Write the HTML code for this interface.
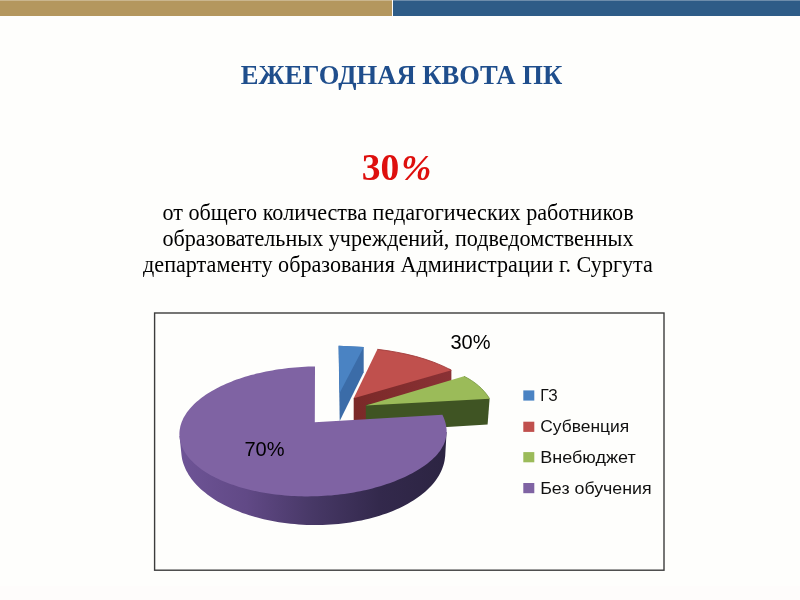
<!DOCTYPE html>
<html lang="ru"><head><meta charset="utf-8"><title>Ежегодная квота ПК</title>
<style>
html,body{margin:0;padding:0}
body{width:800px;height:600px;position:relative;overflow:hidden;background:#fefefc;font-family:"Liberation Serif",serif}
.bar1{position:absolute;left:0;top:0;width:392px;height:16.4px;background:#b4975e}
.bar2{position:absolute;left:392.8px;top:0;width:407.2px;height:16.4px;background:#2e5c87}
.barhl{position:absolute;left:0;top:0;width:800px;height:1px;background:rgba(255,255,255,.3)}
.foot{position:absolute;left:0;top:586px;width:800px;height:14px;background:#fefcfb}
.title{position:absolute;left:0;width:803px;top:58.5px;text-align:center;font-weight:bold;font-size:26.6px;line-height:32px;color:#1f4e8c;white-space:nowrap}
.pct{position:absolute;left:361.7px;top:146.5px;font-weight:bold;font-size:37.5px;line-height:42px;color:#de0f0d;white-space:nowrap}
.pct i{font-size:36px;margin-left:2px}
.body{position:absolute;left:0;width:796px;top:199.5px;text-align:center;font-size:22.15px;line-height:26px;color:#000;white-space:nowrap}
</style></head><body>
<div class="bar1"></div><div class="bar2"></div><div class="barhl"></div><div class="foot"></div>
<div class="title">ЕЖЕГОДНАЯ КВОТА ПК</div>
<div class="pct">30<i>%</i></div>
<div class="body">от общего количества педагогических работников<br>образовательных учреждений, подведомственных<br>департаменту образования Администрации г. Сургута</div>
<svg width="800" height="600" viewBox="0 0 800 600" style="position:absolute;left:0;top:0">
<defs>
<linearGradient id="ps" gradientUnits="userSpaceOnUse" x1="180" y1="0" x2="446" y2="0">
<stop offset="0" stop-color="#6e5496"/>
<stop offset="0.25" stop-color="#614986"/>
<stop offset="0.5" stop-color="#473866"/>
<stop offset="0.75" stop-color="#33294c"/>
<stop offset="1" stop-color="#2c2442"/>
</linearGradient>
<linearGradient id="rs" gradientUnits="userSpaceOnUse" x1="354" y1="0" x2="452" y2="0">
<stop offset="0" stop-color="#7a2928"/><stop offset="1" stop-color="#8a3135"/>
</linearGradient>
</defs>
<rect x="154.6" y="313" width="509.4" height="257.2" fill="none" stroke="#3c3c3c" stroke-width="1.4"/>
<!-- blue -->
<path d="M338.6,345.8 L363.7,347.0 L363.7,372.3 L339.7,421.0 Z" fill="#3b6ca8"/>
<path d="M338.6,345.8 L363.7,347.0 L339.6,393.0 Z" fill="#4a83c3"/>
<!-- red -->
<path d="M353.7,398.0 L356.7,396.3 L449.4,368.7 L451.4,370.2 L451.4,394.2 L353.7,424.3 Z" fill="url(#rs)"/>
<path d="M353.7,398.3 L377.4,349.3 C403.0,352.5 428.4,358.0 451.4,370.2 Z" fill="#c0504d"/>
<path d="M377.4,349.3 C403.0,352.5 428.4,358.0 451.4,370.2" fill="none" stroke="#a23c3b" stroke-width="0.9"/>
<!-- green -->
<path d="M365.8,405.2 L368.8,404.0 L487.6,397.2 L489.6,398.7 L487.6,424.6 L365.8,432.0 Z" fill="#3f5423"/>
<path d="M365.8,405.5 L464.0,376.3 C474.3,381.3 483.6,388.9 489.6,398.7 Z" fill="#9bbb59"/>
<path d="M464.0,376.3 C474.3,381.3 483.6,388.9 489.6,398.7" fill="none" stroke="#7d9d47" stroke-width="0.9"/>
<!-- purple -->
<path d="M179.5,436.0 L181.5,455.1 L181.8,457.3 L182.2,459.5 L182.8,461.7 L183.5,463.9 L184.3,466.1 L185.2,468.3 L186.2,470.5 L187.4,472.6 L188.6,474.7 L190.0,476.8 L191.5,478.9 L193.1,481.0 L194.8,483.0 L196.6,485.0 L198.6,486.9 L200.6,488.9 L202.7,490.8 L205.0,492.6 L207.3,494.5 L209.8,496.3 L212.3,498.0 L214.9,499.7 L217.6,501.4 L220.5,503.0 L223.3,504.6 L226.3,506.1 L229.4,507.5 L232.5,509.0 L235.7,510.3 L239.0,511.6 L242.3,512.9 L245.8,514.1 L249.2,515.2 L252.8,516.3 L256.4,517.3 L260.0,518.3 L263.7,519.2 L267.4,520.0 L271.2,520.8 L275.0,521.5 L278.9,522.2 L282.8,522.7 L286.7,523.3 L290.6,523.7 L294.6,524.1 L298.6,524.4 L302.6,524.7 L306.6,524.9 L310.6,525.0 L314.6,525.0 L318.6,525.0 L322.6,524.9 L326.6,524.8 L330.6,524.5 L334.5,524.3 L338.5,523.9 L342.4,523.5 L346.3,523.0 L350.2,522.4 L354.0,521.8 L357.8,521.1 L361.5,520.4 L365.3,519.6 L368.9,518.7 L372.5,517.8 L376.1,516.8 L379.6,515.7 L383.0,514.6 L386.4,513.4 L389.7,512.2 L392.9,510.9 L396.1,509.6 L399.2,508.2 L402.2,506.8 L405.1,505.3 L407.9,503.7 L410.7,502.1 L413.3,500.5 L415.9,498.8 L418.4,497.1 L420.8,495.3 L423.0,493.5 L425.2,491.7 L427.3,489.8 L429.3,487.8 L431.1,485.9 L432.9,483.9 L434.5,481.9 L436.0,479.9 L437.5,477.8 L438.8,475.7 L440.0,473.6 L441.0,471.5 L442.0,469.3 L442.8,467.1 L443.5,464.9 L444.1,462.8 L444.6,460.6 L444.9,458.3 L445.2,456.1 L446.6,432.0 Z" fill="url(#ps)"/>
<path d="M314.8,422.3 L315.0,366.5 L311.7,366.5 L308.3,366.6 L305.0,366.8 L301.7,366.9 L298.4,367.2 L295.1,367.4 L291.8,367.7 L288.5,368.1 L285.2,368.4 L282.0,368.9 L278.7,369.3 L275.5,369.8 L272.3,370.4 L269.2,370.9 L266.0,371.5 L262.9,372.2 L259.9,372.9 L256.8,373.6 L253.8,374.4 L250.9,375.1 L247.9,376.0 L245.0,376.8 L242.2,377.7 L239.4,378.7 L236.6,379.6 L233.9,380.6 L231.3,381.7 L228.7,382.7 L226.1,383.8 L223.6,384.9 L221.1,386.1 L218.8,387.2 L216.4,388.4 L214.2,389.7 L211.9,390.9 L209.8,392.2 L207.7,393.5 L205.7,394.8 L203.7,396.2 L201.9,397.6 L200.0,399.0 L198.3,400.4 L196.6,401.8 L195.0,403.3 L193.5,404.7 L192.1,406.2 L190.7,407.7 L189.4,409.2 L188.2,410.8 L187.0,412.3 L185.9,413.9 L185.0,415.4 L184.0,417.0 L183.2,418.6 L182.5,420.2 L181.8,421.8 L181.2,423.4 L180.7,425.0 L180.3,426.6 L180.0,428.2 L179.7,429.8 L179.5,431.5 L179.4,433.1 L179.4,434.7 L179.5,436.3 L179.7,437.9 L179.9,439.5 L180.2,441.2 L180.7,442.7 L181.1,444.3 L181.7,445.9 L182.4,447.5 L183.1,449.1 L183.9,450.6 L184.8,452.2 L185.8,453.7 L186.9,455.2 L188.0,456.7 L189.2,458.2 L190.5,459.7 L191.9,461.1 L193.3,462.5 L194.8,464.0 L196.4,465.3 L198.1,466.7 L199.8,468.1 L201.6,469.4 L203.5,470.7 L205.4,472.0 L207.4,473.2 L209.5,474.5 L211.6,475.7 L213.8,476.8 L216.1,478.0 L218.4,479.1 L220.8,480.2 L223.3,481.2 L225.8,482.3 L228.3,483.2 L230.9,484.2 L233.6,485.1 L236.3,486.0 L239.0,486.9 L241.8,487.7 L244.7,488.5 L247.5,489.3 L250.5,490.0 L253.4,490.7 L256.4,491.3 L259.5,491.9 L262.5,492.5 L265.6,493.0 L268.8,493.5 L271.9,494.0 L275.1,494.4 L278.3,494.8 L281.5,495.1 L284.8,495.4 L288.0,495.7 L291.3,495.9 L294.6,496.1 L297.9,496.2 L301.2,496.3 L304.6,496.4 L307.9,496.4 L311.2,496.3 L314.6,496.3 L317.9,496.2 L321.2,496.0 L324.5,495.8 L327.9,495.6 L331.2,495.4 L334.5,495.1 L337.7,494.7 L341.0,494.3 L344.3,493.9 L347.5,493.4 L350.7,492.9 L353.9,492.4 L357.0,491.8 L360.2,491.2 L363.3,490.6 L366.3,489.9 L369.4,489.2 L372.4,488.4 L375.3,487.6 L378.3,486.8 L381.1,485.9 L384.0,485.0 L386.8,484.1 L389.5,483.2 L392.2,482.2 L394.9,481.2 L397.5,480.1 L400.0,479.1 L402.5,478.0 L404.9,476.9 L407.3,475.8 L409.6,474.6 L411.8,473.4 L414.0,472.2 L416.1,471.0 L418.2,469.8 L420.2,468.6 L422.1,467.3 L424.0,466.0 L425.8,464.8 L427.5,463.5 L429.2,462.1 L430.7,460.8 L432.2,459.5 L433.7,458.1 L435.1,456.8 L436.3,455.4 L437.6,454.0 L438.7,452.6 L439.8,451.2 L440.8,449.8 L441.7,448.3 L442.5,446.8 L443.3,445.4 L444.0,443.9 L444.6,442.4 L445.1,440.9 L445.6,439.3 L445.9,437.8 L446.2,436.2 L446.4,434.6 L446.6,433.0 L446.6,431.4 L446.6,429.8 L446.4,428.1 L446.2,426.5 L445.9,424.8 L445.6,423.2 L445.1,421.5 L444.5,419.8 L443.9,418.1 L443.2,416.5 L442.4,414.8 Z" fill="#7f63a3"/>
<text x="450.5" y="348.6" font-family="Liberation Sans, sans-serif" font-size="20" fill="#000">30%</text>
<text x="244.5" y="455.6" font-family="Liberation Sans, sans-serif" font-size="20" fill="#000">70%</text>
<!-- legend -->
<rect x="523.3" y="390.4" width="11" height="10.2" fill="#4a83c3"/>
<rect x="523.3" y="421.7" width="11" height="10.2" fill="#c0504d"/>
<rect x="523.3" y="452.1" width="11" height="10.2" fill="#9bbb59"/>
<rect x="523.3" y="483.0" width="11" height="10.2" fill="#7f63a3"/>
<g font-family="Liberation Sans, sans-serif" font-size="16.2" fill="#111">
<text x="540.2" y="400.8" textLength="17.6" lengthAdjust="spacingAndGlyphs">ГЗ</text>
<text x="540.2" y="431.9" textLength="89" lengthAdjust="spacingAndGlyphs">Субвенция</text>
<text x="540.2" y="462.7" textLength="95.5" lengthAdjust="spacingAndGlyphs">Внебюджет</text>
<text x="540.2" y="493.7" textLength="111.5" lengthAdjust="spacingAndGlyphs">Без обучения</text>
</g>
</svg>
</body></html>
